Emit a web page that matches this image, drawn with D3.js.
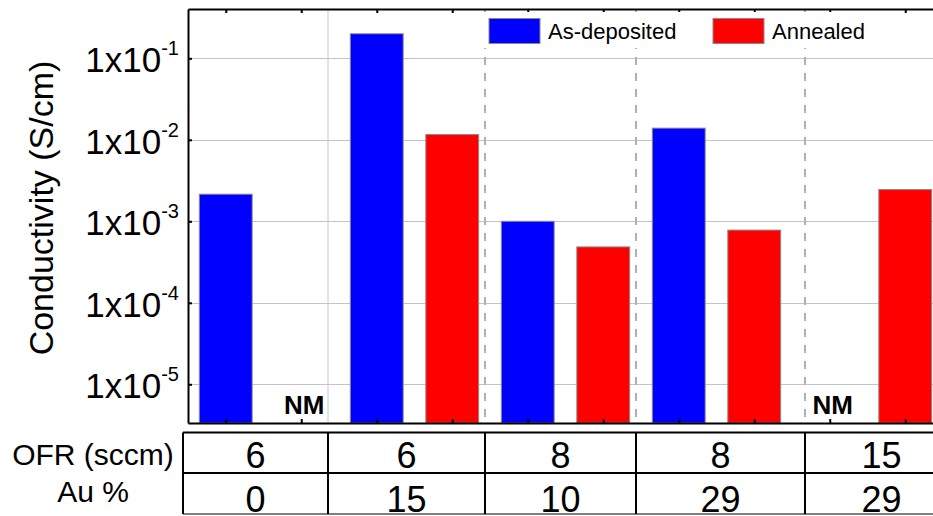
<!DOCTYPE html>
<html>
<head>
<meta charset="utf-8">
<script src="https://cdn.jsdelivr.net/npm/d3@7"></script>
<style>
  body { margin: 0; background: #fff; }
  text { font-family: "Liberation Sans", Arial, Helvetica, sans-serif; }
</style>
</head>
<body>
<div class="chart"></div>
<script>
var wi = 933;
var he = 516;

var asDeposited = [2.15e-3, 0.2, 1.0e-3, 0.0139, null];
var annealed = [null, 0.0116, 4.85e-4, 7.8e-4, 2.45e-3];
var seriesNames = ["As-deposited", "Annealed"];
var ofr = ["6", "6", "8", "8", "15"];
var auPct = ["0", "15", "10", "29", "29"];
var yTicks = [1e-5, 1e-4, 1e-3, 1e-2, 1e-1];

var colors = ["#0000ff", "#ff0000"];

// plot box
var pLeft = 188, pTop = 9, pBottom = 423, pRight = 943;
// table column edges (table is drawn separately below the plot)
var tableCols = [183, 328, 485, 636, 805, 958];
var tableTop = 432.5, tableMid = 473, tableBot = 514;

var slots = [];
for (var g = 0; g < asDeposited.length; g++) {
  slots.push({ slot: g * 2, s: 0, v: asDeposited[g] });
  slots.push({ slot: g * 2 + 1, s: 1, v: annealed[g] });
}

var xScale = d3.scaleBand()
    .domain(d3.range(slots.length))
    .range([pLeft, pRight])
    .paddingInner(0.3)
    .paddingOuter(0.15);

var yScale = d3.scaleLog()
    .domain([Math.pow(10, -5.475), Math.pow(10, -0.395)])
    .range([pBottom, pTop]);

var svg = d3.select(".chart")
  .append("svg")
    .attr("width", wi)
    .attr("height", he);

// horizontal grid
svg.append("g")
  .selectAll("line")
  .data(yTicks)
  .enter()
  .append("line")
    .attr("x1", pLeft)
    .attr("x2", pRight)
    .attr("y1", function(d) { return Math.round(yScale(d)) + 0.5; })
    .attr("y2", function(d) { return Math.round(yScale(d)) + 0.5; })
    .attr("stroke", "#c4c4c4")
    .attr("stroke-width", 1);

// group dividers
svg.append("g")
  .selectAll("line")
  .data(tableCols.slice(1, 5))
  .enter()
  .append("line")
    .attr("x1", function(d) { return d; })
    .attr("x2", function(d) { return d; })
    .attr("y1", pTop)
    .attr("y2", pBottom)
    .attr("stroke", function(d, i) { return i == 0 ? "#c8c8c8" : "#b0b0b0"; })
    .attr("stroke-width", function(d, i) { return i == 0 ? 1 : 2; })
    .attr("stroke-dasharray", function(d, i) { return i == 0 ? null : "8,8"; });

// bars
svg.append("g")
  .selectAll("rect")
  .data(slots.filter(function(d) { return d.v != null; }))
  .enter()
  .append("rect")
    .attr("x", function(d) { return xScale(d.slot); })
    .attr("width", xScale.bandwidth())
    .attr("y", function(d) { return yScale(d.v); })
    .attr("height", function(d) { return pBottom - yScale(d.v); })
    .attr("fill", function(d) { return colors[d.s]; })
    .attr("stroke", "#8a8a8a")
    .attr("stroke-width", 1);

// NM labels
svg.append("g")
  .selectAll("text")
  .data(slots.filter(function(d) { return d.v == null; }))
  .enter()
  .append("text")
    .attr("x", function(d) { return xScale(d.slot) + xScale.bandwidth() / 2 + 3; })
    .attr("y", 414)
    .attr("text-anchor", "middle")
    .attr("font-size", "26px")
    .attr("font-weight", "bold")
    .text("NM");

// axes
var tickPos = function(d) { return xScale(d) + xScale.bandwidth() / 2; };
var pix = d3.scaleLinear().domain([pLeft, pRight]).range([pLeft, pRight]);

var topAxis = d3.axisTop(pix)
    .tickValues(xScale.domain().map(tickPos))
    .tickSizeInner(-4)
    .tickSizeOuter(0)
    .tickFormat("");
svg.append("g")
    .attr("transform", "translate(0," + pTop + ")")
    .call(topAxis);

var botAxis = d3.axisBottom(pix)
    .tickValues(xScale.domain().map(tickPos))
    .tickSizeInner(-4)
    .tickSizeOuter(0)
    .tickFormat("");
svg.append("g")
    .attr("transform", "translate(0," + pBottom + ")")
    .call(botAxis);

var yAxis = d3.axisLeft(yScale)
    .tickValues(yTicks)
    .tickSizeInner(-4)
    .tickSizeOuter(0)
    .tickFormat("");
svg.append("g")
    .attr("transform", "translate(" + pLeft + ",0)")
    .call(yAxis);

svg.selectAll(".domain, .tick line")
    .attr("stroke", "#000")
    .attr("stroke-width", 2);

// y tick labels with superscript exponent
var ylab = svg.append("g")
  .selectAll("text")
  .data(yTicks)
  .enter()
  .append("text")
    .attr("x", 179)
    .attr("y", function(d) { return yScale(d) + 14; })
    .attr("text-anchor", "end");
ylab.append("tspan")
    .attr("font-size", "35px")
    .text("1x10");
ylab.append("tspan")
    .attr("font-size", "20px")
    .attr("dy", -17)
    .text(function(d) { return Math.round(Math.log10(d)); });

// y axis title
svg.append("text")
    .attr("transform", "translate(53,208) rotate(-90)")
    .attr("text-anchor", "middle")
    .attr("font-size", "34px")
    .text("Conductivity (S/cm)");

// legend
var legend = svg.append("g");
legend.append("rect")
    .attr("x", 483).attr("y", 12)
    .attr("width", 392).attr("height", 36)
    .attr("fill", "#fff");
var legX = [489, 713];
seriesNames.forEach(function(name, i) {
  legend.append("rect")
      .attr("x", legX[i]).attr("y", 18.5)
      .attr("width", 51).attr("height", 25)
      .attr("fill", colors[i])
      .attr("stroke", "#8a8a8a")
      .attr("stroke-width", 1);
  legend.append("text")
      .attr("x", legX[i] + 59)
      .attr("y", 38.5)
      .attr("font-size", "22px")
      .text(name);
});

// table below the plot
var table = svg.append("g");
[tableTop, tableMid].forEach(function(y) {
  table.append("line")
      .attr("x1", tableCols[0]).attr("x2", wi)
      .attr("y1", y).attr("y2", y)
      .attr("stroke", "#000").attr("stroke-width", 2);
});
table.append("line")
    .attr("x1", tableCols[0]).attr("x2", wi)
    .attr("y1", tableBot).attr("y2", tableBot)
    .attr("stroke", "#555").attr("stroke-width", 1.5);
table.selectAll(".col")
  .data(tableCols)
  .enter()
  .append("line")
    .attr("x1", function(d) { return d; })
    .attr("x2", function(d) { return d; })
    .attr("y1", tableTop)
    .attr("y2", tableBot)
    .attr("stroke", "#000")
    .attr("stroke-width", 2);

table.selectAll(".ofr")
  .data(ofr)
  .enter()
  .append("text")
    .attr("x", function(d, i) { return (tableCols[i] + tableCols[i + 1]) / 2; })
    .attr("y", 468)
    .attr("text-anchor", "middle")
    .attr("font-size", "36px")
    .text(function(d) { return d; });

table.selectAll(".au")
  .data(auPct)
  .enter()
  .append("text")
    .attr("x", function(d, i) { return (tableCols[i] + tableCols[i + 1]) / 2; })
    .attr("y", 512)
    .attr("text-anchor", "middle")
    .attr("font-size", "36px")
    .text(function(d) { return d; });

table.append("text")
    .attr("x", 93)
    .attr("y", 465)
    .attr("text-anchor", "middle")
    .attr("font-size", "30px")
    .text("OFR (sccm)");
table.append("text")
    .attr("x", 93)
    .attr("y", 502)
    .attr("text-anchor", "middle")
    .attr("font-size", "30px")
    .text("Au %");
</script>
</body>
</html>
